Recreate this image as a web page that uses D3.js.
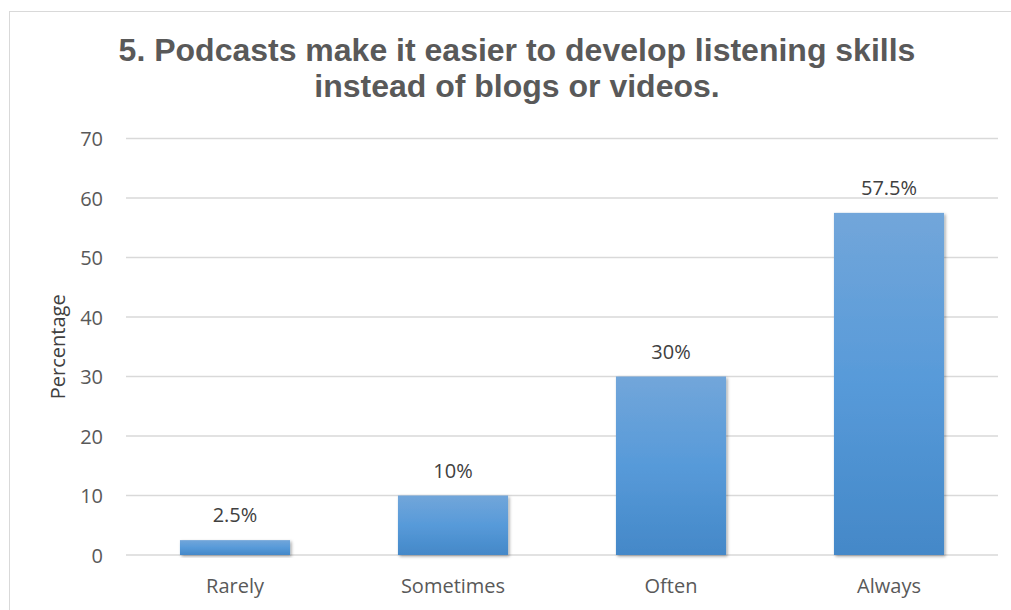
<!DOCTYPE html>
<html>
<head>
<meta charset="utf-8">
<script src="https://cdn.jsdelivr.net/npm/d3@7"></script>
<style>
html, body { margin: 0; padding: 0; background: #fff; }
svg { display: block; }
</style>
</head>
<body>
<svg id="chart" width="1011" height="610"></svg>
<script>
const categories = ["Rarely", "Sometimes", "Often", "Always"];
const values = [2.5, 10, 30, 57.5];
const valueLabels = ["2.5%", "10%", "30%", "57.5%"];
const yTicks = [0, 10, 20, 30, 40, 50, 60, 70];
const titleLines = ["5. Podcasts make it easier to develop listening skills", "instead of blogs or videos."];
const yAxisTitle = "Percentage";

const svg = d3.select("#chart");
const W = 1011, H = 610;
const plot = { left: 126, right: 998, top: 138.5, bottom: 555 };
const FONT = "'Open Sans', sans-serif";

const defs = svg.append("defs");
const grad = defs.append("linearGradient").attr("id", "barGrad")
  .attr("x1", 0).attr("y1", 0).attr("x2", 0).attr("y2", 1);
grad.append("stop").attr("offset", "0%").attr("stop-color", "#72a6da");
grad.append("stop").attr("offset", "50%").attr("stop-color", "#579ad9");
grad.append("stop").attr("offset", "100%").attr("stop-color", "#4488c8");
const filt = defs.append("filter").attr("id", "shadow")
  .attr("x", "-10%").attr("y", "-10%").attr("width", "130%").attr("height", "130%");
filt.append("feDropShadow").attr("dx", 1.5).attr("dy", 1.5).attr("stdDeviation", 1.8)
  .attr("flood-color", "#000").attr("flood-opacity", 0.35);

// outer border
svg.append("rect").attr("x", 9.5).attr("y", 11.5).attr("width", W + 10).attr("height", H + 10)
  .attr("fill", "#fff").attr("stroke", "#d9d9d9").attr("stroke-width", 1);

const x = d3.scaleBand().domain(categories).range([plot.left, plot.right]).paddingInner(0.495).paddingOuter(0.2475);
const y = d3.scaleLinear().domain([0, 70]).range([plot.bottom, plot.top]);

// gridlines
svg.append("g").selectAll("line").data(yTicks).join("line")
  .attr("x1", plot.left).attr("x2", plot.right)
  .attr("y1", d => y(d)).attr("y2", d => y(d))
  .attr("stroke", "#d9d9d9").attr("stroke-width", 1.3);

// y axis labels
const yAxis = d3.axisLeft(y).tickValues(yTicks).tickSize(0).tickPadding(0);
const yg = svg.append("g").attr("transform", `translate(${103},0)`).call(yAxis);
yg.select(".domain").remove();
yg.selectAll("text").attr("font-family", FONT).attr("font-size", 20)
  .attr("fill", "#595959").attr("dy", "0.36em");

// x axis labels
const xAxis = d3.axisBottom(x).tickSize(0).tickPadding(0);
const xg = svg.append("g").call(xAxis);
xg.select(".domain").remove();
xg.selectAll("text").attr("font-family", FONT).attr("font-size", 20)
  .attr("fill", "#595959").attr("y", 593).attr("dy", 0);

// bars
svg.append("g").selectAll("rect").data(values).join("rect")
  .attr("x", (d, i) => x(categories[i]))
  .attr("width", x.bandwidth())
  .attr("y", d => y(d))
  .attr("height", d => y(0) - y(d))
  .attr("fill", "url(#barGrad)")
  .attr("filter", "url(#shadow)");

// value labels
svg.append("g").selectAll("text").data(values).join("text")
  .attr("x", (d, i) => x(categories[i]) + x.bandwidth() / 2)
  .attr("y", d => y(d) - 18)
  .attr("text-anchor", "middle")
  .attr("font-family", FONT).attr("font-size", 20)
  .attr("fill", "#404040")
  .text((d, i) => valueLabels[i]);

// y axis title
svg.append("text")
  .attr("transform", `translate(${65},${(plot.top + plot.bottom) / 2}) rotate(-90)`)
  .attr("text-anchor", "middle")
  .attr("font-family", FONT).attr("font-size", 20)
  .attr("fill", "#404040")
  .text(yAxisTitle);

// title
svg.append("g").selectAll("text").data(titleLines).join("text")
  .attr("x", 517).attr("y", (d, i) => 61 + i * 36)
  .attr("text-anchor", "middle")
  .attr("font-family", "'Liberation Sans', Arial, sans-serif").attr("font-weight", "bold")
  .attr("font-size", 32).attr("fill", "#595959")
  .text(d => d);
</script>
</body>
</html>
